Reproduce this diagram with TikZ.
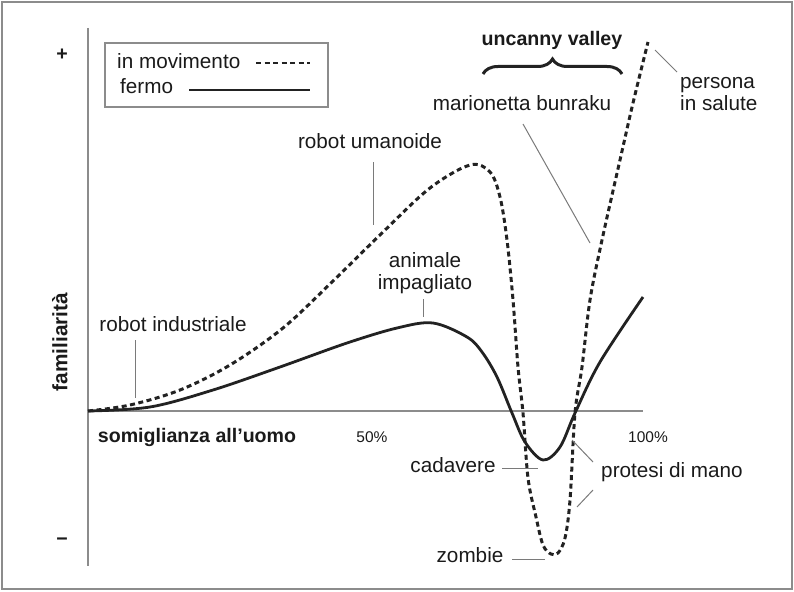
\documentclass[tikz,border=0pt]{standalone}
\usepackage{fontspec}
\setmainfont{Liberation Sans}
\usetikzlibrary{decorations.pathreplacing}
\definecolor{axisgray}{HTML}{8C8C8C}
\definecolor{leadgray}{HTML}{7A7A7A}
\definecolor{curvedark}{HTML}{222222}
\definecolor{txt}{HTML}{1A1A1A}
\tikzset{
  lbl/.style={font=\fontsize{20.7}{24}\selectfont, text=txt, inner sep=0pt, text height=15pt, text depth=4.5pt},
  blbl/.style={lbl, font=\fontsize{19.6}{23}\selectfont\bfseries},
  axisline/.style={draw=axisgray, line width=1.8pt},
  leader/.style={draw=leadgray, line width=1pt},
  movcurve/.style={draw=curvedark, line width=3pt, dash pattern=on 5pt off 3.5pt},
  stillcurve/.style={draw=curvedark, line width=2.8pt},
}
\begin{document}
\begin{tikzpicture}[x=1pt,y=-1pt]
\useasboundingbox (0,0) rectangle (794,591);
% outer frame
\draw[axisgray, line width=1.5pt] (2,2) rectangle (792,589);
% axes
\coordinate (ytop) at (88,28);
\coordinate (ybot) at (88,566);
\coordinate (xl) at (88,411);
\coordinate (xr) at (643,411);
\draw[axisline] (ytop) -- (ybot);
\draw[axisline] (xl) -- (xr);
% axis labels
\node[blbl] (plus) at (62,55) {+};
\node[blbl] (minus) at (62,540) {−};
\node[blbl, font=\fontsize{20.8}{24}\selectfont\bfseries, rotate=90] (fam) at (62,342) {familiarità};
\node[blbl] (somig) at (197,437) {somiglianza all’uomo};
\node[lbl, font=\fontsize{15.5}{18}\selectfont] (p50) at (372,437) {50\%};
\node[lbl, font=\fontsize{15.5}{18}\selectfont] (p100) at (648,437) {100\%};
% legend
\draw[axisgray, line width=1.5pt] (105,43) rectangle (328,107);
\node[lbl, anchor=west] (legmov) at (117,63) {in movimento};
\node[lbl, anchor=west] (legfer) at (120,88) {fermo};
\coordinate (lm1) at (256,63); \coordinate (lm2) at (310,63);
\coordinate (lf1) at (189,90); \coordinate (lf2) at (310,90);
\draw[movcurve, line width=2.5pt] (lm1) -- (lm2);
\draw[stillcurve] (lf1) -- (lf2);
% curves
\draw[stillcurve] plot[smooth, tension=0.55] coordinates {
 (88,411) (150,407) (213,390) (280,367) (347,343) (397,328) (433,323)
 (467,337) (482,352) (497,377) (512,413) (525,442) (543,460) (560,447) (575,413)
 (600,362) (643,297)};
\draw[movcurve] plot[smooth, tension=0.55] coordinates {
 (88,411) (130,405) (180,390) (230,365) (283,328) (333,281) (383,232)
 (430,188) (470,165) (490,172) (500,197) (507,240) (513,300) (518,367) (523,413)
 (528,478) (536,517) (543,545) (551,554) (558,553) (565,538) (570,500) (575,413) (582,367)
 (590,300) (602,240) (620,160) (633,103) (648,42)};
% uncanny valley
\node[blbl] (uv) at (552,40) {uncanny valley};
\coordinate (brl) at (483,74); \coordinate (brr) at (622,74);
\draw[curvedark, line width=3pt, decorate, decoration={brace, amplitude=15pt}] (brl) -- (brr);
% labels and leaders
\node[lbl] (indus) at (173,326) {robot industriale};
\coordinate (indA) at (135,340); \coordinate (indB) at (135,398);
\draw[leader] (indA) -- (indB);
\node[lbl] (uman) at (370,143) {robot umanoide};
\coordinate (umA) at (373,162); \coordinate (umB) at (373,225);
\draw[leader] (umA) -- (umB);
\node[lbl] (anim1) at (425,262) {animale};
\node[lbl] (anim2) at (425,284) {impagliato};
\coordinate (anA) at (423,299); \coordinate (anB) at (423,317);
\draw[leader] (anA) -- (anB);
\node[lbl] (mario) at (522,105) {marionetta bunraku};
\coordinate (maA) at (523,124); \coordinate (maB) at (590,243);
\draw[leader] (maA) -- (maB);
\node[lbl, anchor=west] (pers1) at (680,83) {persona};
\node[lbl, anchor=west] (pers2) at (680,105) {in salute};
\coordinate (peA) at (655,50); \coordinate (peB) at (677,72);
\draw[leader] (peA) -- (peB);
\node[lbl] (cad) at (453,467) {cadavere};
\coordinate (caA) at (502,468); \coordinate (caB) at (538,468);
\draw[leader] (caA) -- (caB);
\node[lbl] (zom) at (470,557) {zombie};
\coordinate (zoA) at (512,559); \coordinate (zoB) at (545,559);
\draw[leader] (zoA) -- (zoB);
\node[lbl] (prot) at (672,472) {protesi di mano};
\coordinate (prA) at (572,440); \coordinate (prB) at (593,462);
\coordinate (prC) at (577,507); \coordinate (prD) at (593,490);
\draw[leader] (prA) -- (prB);
\draw[leader] (prC) -- (prD);
\end{tikzpicture}
\end{document}
